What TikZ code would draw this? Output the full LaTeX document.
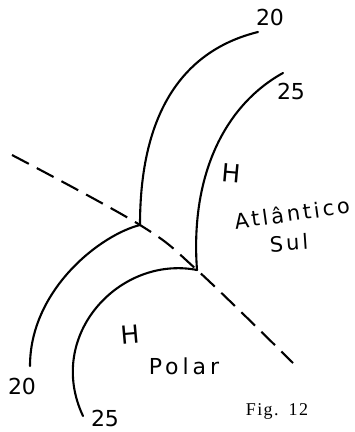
\documentclass[tikz,border=0pt]{standalone}
\usepackage{fontspec}
\newfontfamily\handfont{DejaVu Sans}
\newfontfamily\capfont{Liberation Serif}
\usepackage{tikz}

\begin{document}
\begin{tikzpicture}[
  x=1pt, y=-1pt,
  isoline/.style={line width=2.1pt, line cap=round, line join=round},
  front/.style  ={line width=2.1pt, dash pattern=on 19pt off 9pt},
  lbl/.style    ={font=\handfont\fontsize{22}{22}\selectfont, inner sep=0pt},
  high/.style   ={lbl, font=\handfont\fontsize{25}{25}\selectfont},
  word/.style   ={lbl, font=\handfont\fontsize{21}{21}\selectfont\addfontfeature{LetterSpace=14}},
  caption/.style={font=\capfont\fontsize{18}{18}\selectfont\addfontfeature{LetterSpace=8}, inner sep=0pt}]

\useasboundingbox (0,0) rectangle (355,432);

% where the isolines break on the front
\coordinate (j20) at (140,225);
\coordinate (j25) at (197,270);
\coordinate (f0) at (12,155);
\coordinate (f1) at (293,363);

% isolines
\draw[isoline] (258,32) .. controls (185,50) and (140,110) .. (j20);
\draw[isoline] (j20) .. controls (100,235) and (30,290) .. (30,366);
\draw[isoline] (283,73) .. controls (225,105) and (190,175) .. (j25);
\draw[isoline] (j25) .. controls (120,255) and (45,335) .. (83,416);

% the front
\draw[front] plot[smooth, tension=0.6] coordinates {(f0) (j20) (j25) (f1)};

% labels
\node[lbl] (t20a) at (270,17) {20};
\node[lbl] (t25a) at (291,91) {25};
\node[lbl] (t20b) at (22,386) {20};
\node[lbl] (t25b) at (105,418) {25};
\node[high, rotate=-5] (hatl) at (231,173) {H};
\node[word, rotate=8] (atl) at (292,213) {Atlântico};
\node[word, rotate=4, xshift=2pt] (sul) at (287,243) {Sul};
\node[high, rotate=5] (hpol) at (130,335) {H};
\node[word, font=\handfont\fontsize{22}{22}\selectfont\addfontfeature{LetterSpace=18}] (pol) at (184,366) {Polar};
\node[caption] (fig) at (277,411) {Fig.\hspace{10pt}12};

\end{tikzpicture}
\end{document}
